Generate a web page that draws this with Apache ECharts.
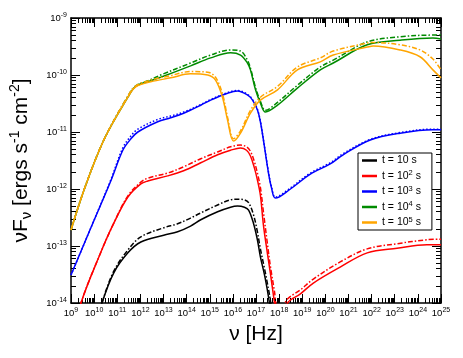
<!DOCTYPE html>
<html>
<head>
<meta charset="utf-8">
<script src="https://cdn.jsdelivr.net/npm/echarts@6/dist/echarts.min.js"></script>
<style>
  html, body { margin: 0; padding: 0; background: #fff; }
  #chart { width: 463px; height: 358px; }
</style>
</head>
<body>
<div id="chart"></div>
<script>
// all values are log10 of the quantity (nu in Hz, nuF_nu in erg s^-1 cm^-2)
const blackNu = [10.15, 10.34, 10.85, 11.46, 12.02, 13.01, 13.61, 14.17, 14.61, 15.34, 15.90, 16.20, 16.50, 16.68, 16.89, 17.06, 17.19, 17.37, 17.49, 17.58, 17.75]
const blackSolid = [-14.35, -14.00, -13.47, -13.12, -12.93, -12.81, -12.75, -12.65, -12.54, -12.40, -12.32, -12.30, -12.32, -12.37, -12.60, -12.89, -13.19, -13.51, -13.77, -14.00, -14.5]
const blackDash = [-14.35, -14.00, -13.44, -13.07, -12.84, -12.68, -12.61, -12.51, -12.42, -12.28, -12.19, -12.18, -12.19, -12.24, -12.45, -12.75, -13.05, -13.40, -13.65, -13.85, -14.3]

const redNu = [9.25, 9.43, 10.29, 10.85, 11.46, 12.02, 12.32, 13.18, 13.87, 14.61, 15.34, 15.90, 16.33, 16.59, 16.76, 16.93, 17.06, 17.19, 17.32, 17.49, 17.62, 17.80, 17.95, 18.15, 18.36, 18.92, 19.48, 20.64, 21.81, 23.10, 24.39, 25.0]
const redSolid = [-14.4, -14.00, -13.11, -12.60, -12.14, -11.91, -11.86, -11.77, -11.68, -11.54, -11.40, -11.32, -11.28, -11.32, -11.42, -11.63, -11.84, -12.11, -12.63, -13.12, -13.47, -14.00, -14.4, -14.35, -14.00, -13.84, -13.65, -13.37, -13.12, -13.04, -12.98, -12.98]
const redDash = [-14.4, -14.00, -13.11, -12.60, -12.12, -11.88, -11.81, -11.72, -11.61, -11.47, -11.35, -11.26, -11.23, -11.26, -11.34, -11.52, -11.72, -11.97, -12.40, -12.95, -13.35, -13.80, -14.2, -14.1, -13.93, -13.77, -13.58, -13.28, -13.05, -12.96, -12.89, -12.88]

const blueNu = [9.00, 9.86, 10.72, 11.24, 11.59, 11.89, 12.75, 13.31, 13.87, 14.61, 15.04, 15.77, 16.20, 16.63, 16.85, 17.06, 17.19, 17.32, 17.54, 17.67, 17.84, 18.49, 19.35, 20.21, 20.77, 21.94, 23.23, 24.65, 25.0]
const blueSolid = [-13.51, -12.68, -11.86, -11.32, -11.12, -11.00, -10.82, -10.75, -10.67, -10.53, -10.44, -10.32, -10.28, -10.35, -10.44, -10.61, -10.82, -11.14, -11.72, -11.98, -12.16, -12.00, -11.74, -11.56, -11.40, -11.14, -11.02, -10.96, -10.96]
const blueDot = [-13.51, -12.68, -11.84, -11.28, -11.07, -10.95, -10.78, -10.72, -10.65, -10.52, -10.43, -10.31, -10.27, -10.34, -10.43, -10.60, -10.81, -11.13, -11.70, -11.96, -12.14, -11.98, -11.72, -11.54, -11.38, -11.13, -11.01, -10.95, -10.95]

const greenNu = [9.00, 9.56, 10.42, 11.46, 11.80, 12.45, 12.88, 14.17, 15.04, 15.90, 16.33, 16.63, 16.76, 16.98, 17.19, 17.41, 17.93, 18.79, 19.78, 20.34, 21.81, 23.23, 24.65, 25.0]
const greenSolid = [-12.72, -12.02, -11.14, -10.39, -10.20, -10.10, -10.04, -9.84, -9.70, -9.61, -9.65, -9.79, -9.91, -10.26, -10.49, -10.65, -10.53, -10.23, -9.91, -9.79, -9.47, -9.39, -9.35, -9.37]
const greenDash = [-12.72, -12.02, -11.14, -10.37, -10.19, -10.08, -10.00, -9.79, -9.65, -9.56, -9.58, -9.74, -9.88, -10.22, -10.46, -10.62, -10.48, -10.18, -9.86, -9.74, -9.42, -9.33, -9.30, -9.30]

const orangeNu = [9.00, 9.56, 10.42, 11.46, 11.80, 12.45, 13.31, 14.17, 14.91, 15.25, 15.55, 15.77, 16.03, 16.33, 16.76, 17.19, 17.93, 18.79, 19.78, 20.34, 21.81, 22.07, 23.23, 24.09, 24.65, 25.0]
const orangeSolid = [-12.72, -12.02, -11.14, -10.39, -10.21, -10.12, -10.05, -9.98, -10.00, -10.09, -10.39, -10.79, -11.16, -11.02, -10.67, -10.44, -10.26, -9.91, -9.77, -9.65, -9.51, -9.49, -9.56, -9.68, -9.91, -10.05]
const orangeDash = [-12.72, -12.02, -11.14, -10.37, -10.19, -10.09, -10.01, -9.94, -9.95, -10.04, -10.33, -10.74, -11.12, -10.98, -10.62, -10.39, -10.20, -9.86, -9.70, -9.58, -9.44, -9.43, -9.47, -9.56, -9.72, -9.91]

const legendNames = ['t = 10 s', 't = 10^2 s', 't = 10^3 s', 't = 10^4 s', 't = 10^5 s']

const colors = ['#000000', '#ff0000', '#0000ff', '#008b00', '#ffa500']
const font = 'Liberation Sans, Arial, sans-serif'
const dashDot = [5, 2, 1.5, 2]

function pairs (nu, f) {
  return nu.map((v, i) => [Math.pow(10, v), Math.pow(10, f[i])])
}

const supRich = {
  b: { fontSize: 9.5, fontFamily: font, color: '#000' },
  sup: { fontSize: 7, fontFamily: font, color: '#000', verticalAlign: 'bottom', padding: [0, 0, 6, 0] }
}
function powLabel (v) {
  const e = Math.round(Math.log10(v))
  return '{b|10}{sup|' + e + '}'
}

const axisLine = { show: true, lineStyle: { color: '#000', width: 1.5 } }
const majorTick = { show: true, inside: true, length: 9, lineStyle: { color: '#000', width: 1 } }
const minorTick = { show: true, splitNumber: 9, length: 5, lineStyle: { color: '#000', width: 1 } }

function logAxis (min, max, position, labels, extra) {
  return Object.assign({
    type: 'log',
    logBase: 10,
    min: min,
    max: max,
    interval: 1,
    position: position,
    axisLine: axisLine,
    axisTick: majorTick,
    minorTick: minorTick,
    axisLabel: labels
      ? { show: true, formatter: powLabel, rich: supRich, margin: 4 }
      : { show: false },
    splitLine: { show: false },
    minorSplitLine: { show: false }
  }, extra || {})
}

const lines = [
  [blackNu, blackSolid, blackDash, 0],
  [redNu, redSolid, redDash, 1],
  [blueNu, blueSolid, blueDot, 2],
  [greenNu, greenSolid, greenDash, 3],
  [orangeNu, orangeSolid, orangeDash, 4]
]

const series = []
lines.forEach(([nu, solid, other, i]) => {
  series.push({
    name: 'other' + i,
    type: 'line',
    xAxisIndex: 0,
    yAxisIndex: 0,
    showSymbol: false,
    smooth: 0.35,
    clip: true,
    silent: true,
    itemStyle: { color: colors[i] },
    lineStyle: { color: colors[i], width: 1.5, type: i === 2 ? [1.5, 2] : dashDot },
    data: pairs(nu, other)
  })
  series.push({
    name: legendNames[i],
    type: 'line',
    xAxisIndex: 0,
    yAxisIndex: 0,
    showSymbol: false,
    smooth: 0.35,
    clip: true,
    silent: true,
    itemStyle: { color: colors[i] },
    lineStyle: { color: colors[i], width: 1.5 },
    data: pairs(nu, solid)
  })
})

const option = {
  backgroundColor: '#fff',
  animation: false,
  textStyle: { fontFamily: font },
  grid: { left: 70, right: 22, top: 18, bottom: 55, containLabel: false },
  legend: {
    data: legendNames,
    orient: 'vertical',
    left: 358,
    top: 153,
    padding: [2, 11, 2, 4],
    itemGap: 3,
    itemWidth: 15,
    itemHeight: 2.5,
    icon: 'rect',
    backgroundColor: '#fff',
    borderColor: '#000',
    borderWidth: 1,
    borderRadius: 0,
    selectedMode: false,
    formatter: function (name) {
      const m = name.match(/^t = 10\^(\d) s$/)
      return m ? '{b|t = 10}{sup|' + m[1] + '}{b| s}' : '{b|' + name + '}'
    },
    textStyle: {
      rich: {
        b: { fontSize: 10.5, fontFamily: font, color: '#000' },
        sup: { fontSize: 7.5, fontFamily: font, color: '#000', verticalAlign: 'bottom', padding: [0, 0, 6, 0] }
      }
    }
  },
  xAxis: [
    logAxis(1e9, 1e25, 'bottom', true, {
      name: '{a|ν [Hz]}',
      nameLocation: 'middle',
      nameGap: 21,
      nameTextStyle: { rich: { a: { fontSize: 21, fontFamily: font, color: '#000' } } }
    }),
    logAxis(1e9, 1e25, 'top', false)
  ],
  yAxis: [
    logAxis(1e-14, 1e-9, 'left', true, {
      name: '{a|νF}{sub|ν}{a| [ergs s}{sup|-1}{a| cm}{sup|-2}{a|]}',
      nameLocation: 'middle',
      nameGap: 37,
      nameTextStyle: {
        rich: {
          a: { fontSize: 21, fontFamily: font, color: '#000' },
          sub: { fontSize: 15, fontFamily: font, color: '#000', verticalAlign: 'bottom', padding: [9, 0, 0, 0] },
          sup: { fontSize: 14, fontFamily: font, color: '#000', verticalAlign: 'bottom', padding: [0, 0, 12, 0] }
        }
      }
    }),
    logAxis(1e-14, 1e-9, 'right', false)
  ],
  series: series
}

const chart = echarts.init(document.getElementById('chart'))
chart.setOption(option)
</script>
</body>
</html>
